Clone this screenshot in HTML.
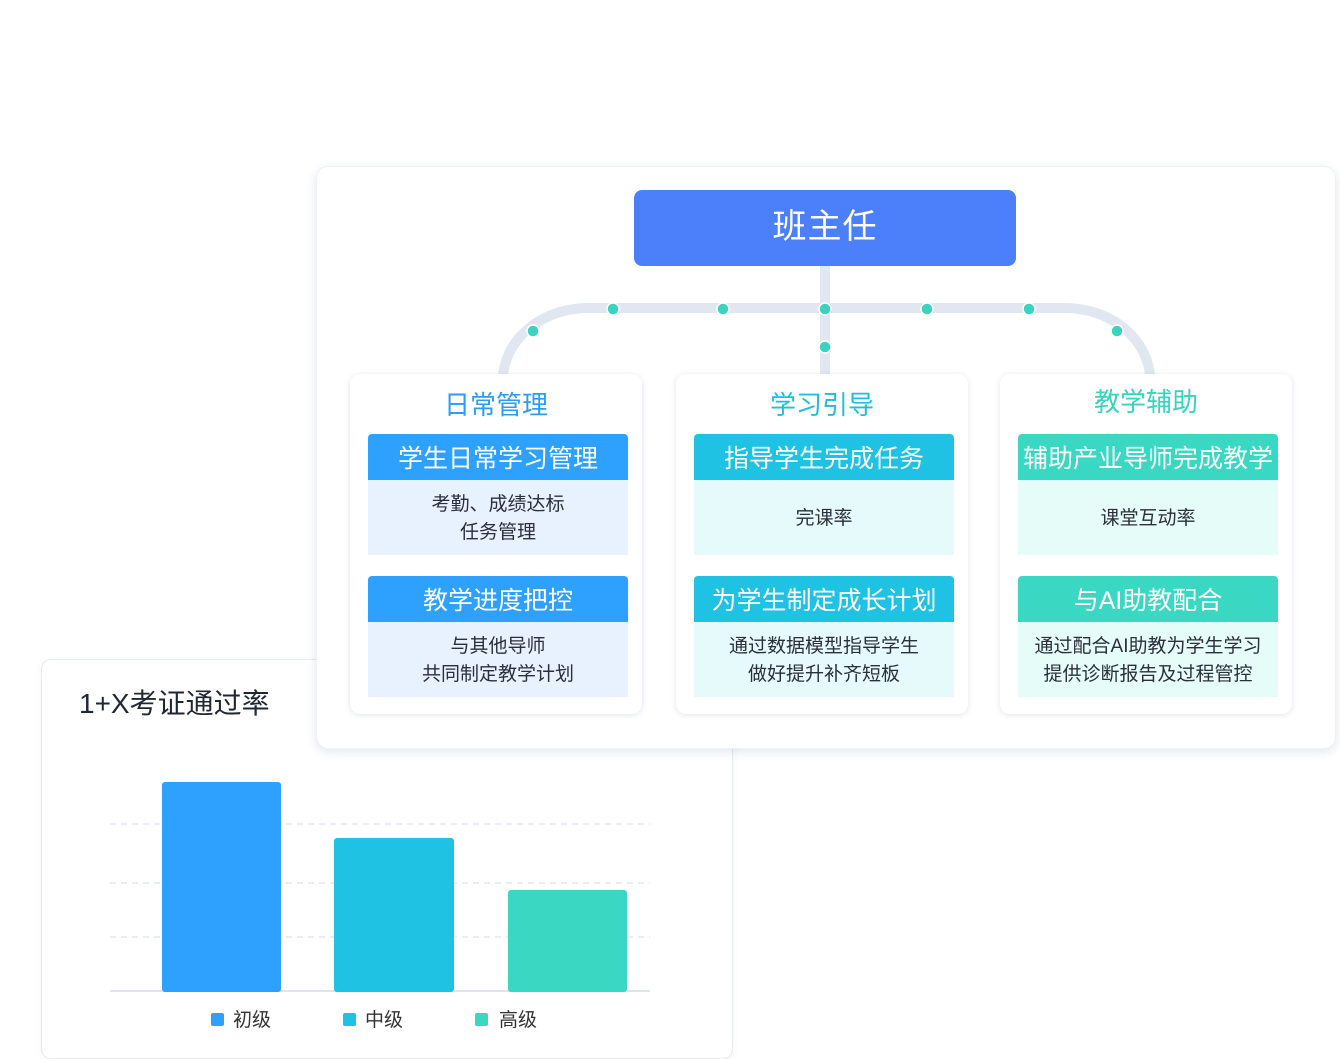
<!DOCTYPE html>
<html><head><meta charset="utf-8"><style>
*{margin:0;padding:0;box-sizing:border-box}
body{width:1340px;height:1046px;background:#fff;position:relative;overflow:hidden;font-family:"Liberation Sans","Noto Sans CJK SC",sans-serif}
.abs{position:absolute}
.chart{left:41px;top:659px;width:692px;height:400px;border:1px solid #e6eaf2;border-radius:10px;background:#fff;box-shadow:0 2px 8px rgba(60,80,130,.06)}
.main{left:316px;top:166px;width:1020px;height:583px;background:#fff;border-radius:12px;box-shadow:0 3px 10px rgba(60,80,130,.14);border:1px solid #eef1f6}
.boss{left:634px;top:190px;width:382px;height:76px;background:#4c80fb;border-radius:8px;color:#fff;font-size:34px;text-align:center;line-height:74px;letter-spacing:1px}
.card{top:374px;width:292px;height:340px;background:#fff;border-radius:10px;box-shadow:0 1px 6px rgba(60,80,130,.16)}
.ttl{position:absolute;left:0;right:0;top:11px;text-align:center;font-size:26px}
.hd{position:absolute;left:18px;width:260px;height:46px;border-radius:4px 4px 0 0;color:#fff;font-size:25px;text-align:center;line-height:50px;white-space:nowrap}
.ds{position:absolute;left:18px;width:260px;height:75px;font-size:19px;color:#2a2f3a;text-align:center;display:flex;align-items:center;justify-content:center;line-height:28px;padding-top:2px}
</style></head><body>
<div class="abs chart">
<div class="abs" style="left:37px;top:22px;font-size:28px;color:#1f2733">1+X考证通过率</div>
</div>
<svg class="abs" style="left:0;top:0" width="1340" height="1046">
<g stroke="#e3e7ef" stroke-width="1.5" stroke-dasharray="6,5"><line x1="110" y1="824" x2="650" y2="824"/><line x1="110" y1="883" x2="650" y2="883"/><line x1="110" y1="937" x2="650" y2="937"/></g>
<line x1="110" y1="991" x2="650" y2="991" stroke="#dfe4ee" stroke-width="2"/>
<rect x="162" y="782" width="119" height="210" rx="3" fill="#2ea1fe"/>
<rect x="334" y="838" width="120" height="154" rx="3" fill="#20c2e3"/>
<rect x="508" y="890" width="119" height="102" rx="3" fill="#3ad8c3"/>
<rect x="211" y="1013" width="13" height="13" rx="2" fill="#2ea1fe"/>
<rect x="343" y="1013" width="13" height="13" rx="2" fill="#20c2e3"/>
<rect x="475" y="1013" width="13" height="13" rx="2" fill="#3ad8c3"/>
<text x="233" y="1026" font-size="19" fill="#333" font-family="Liberation Sans,Noto Sans CJK SC,sans-serif">初级</text>
<text x="365" y="1026" font-size="19" fill="#333" font-family="Liberation Sans,Noto Sans CJK SC,sans-serif">中级</text>
<text x="499" y="1026" font-size="19" fill="#333" font-family="Liberation Sans,Noto Sans CJK SC,sans-serif">高级</text>
</svg>
<div class="abs main"></div>
<svg class="abs" style="left:0;top:0" width="1340" height="1046">
<path d="M503 380 A 85 72 0 0 1 590 308 L1063 308 A 85 72 0 0 1 1150 380" fill="none" stroke="#e1e7f1" stroke-width="10"/>
<line x1="825" y1="262" x2="825" y2="376" stroke="#e1e7f1" stroke-width="10"/>
<g fill="#3bd3bd" stroke="#fff" stroke-width="1.5">
<circle cx="533" cy="331" r="6"/><circle cx="613" cy="309" r="6"/><circle cx="723" cy="309" r="6"/><circle cx="825" cy="309" r="6"/><circle cx="927" cy="309" r="6"/><circle cx="1029" cy="309" r="6"/><circle cx="1117" cy="331" r="6"/><circle cx="825" cy="347" r="6"/>
</g>
</svg>
<div class="abs boss">班主任</div>

<div class="abs card" style="left:350px">
<div class="ttl" style="color:#2d9bf8">日常管理</div>
<div class="hd" style="top:60px;background:#2ea1fe">学生日常学习管理</div>
<div class="ds" style="top:106px;background:#e8f2fe">考勤、成绩达标<br>任务管理</div>
<div class="hd" style="top:202px;background:#2ea1fe">教学进度把控</div>
<div class="ds" style="top:248px;background:#e8f2fe">与其他导师<br>共同制定教学计划</div>
</div>
<div class="abs card" style="left:676px">
<div class="ttl" style="color:#20bde0">学习引导</div>
<div class="hd" style="top:60px;background:#20c2e3">指导学生完成任务</div>
<div class="ds" style="top:106px;background:#e6fafc">完课率</div>
<div class="hd" style="top:202px;background:#20c2e3">为学生制定成长计划</div>
<div class="ds" style="top:248px;background:#e6fafc">通过数据模型指导学生<br>做好提升补齐短板</div>
</div>
<div class="abs card" style="left:1000px">
<div class="ttl" style="color:#36d3bd;top:8px">教学辅助</div>
<div class="hd" style="top:60px;background:#3ad8c3">辅助产业导师完成教学</div>
<div class="ds" style="top:106px;background:#e6fcf9">课堂互动率</div>
<div class="hd" style="top:202px;background:#3ad8c3">与AI助教配合</div>
<div class="ds" style="top:248px;background:#e6fcf9">通过配合AI助教为学生学习<br>提供诊断报告及过程管控</div>
</div>
</body></html>
